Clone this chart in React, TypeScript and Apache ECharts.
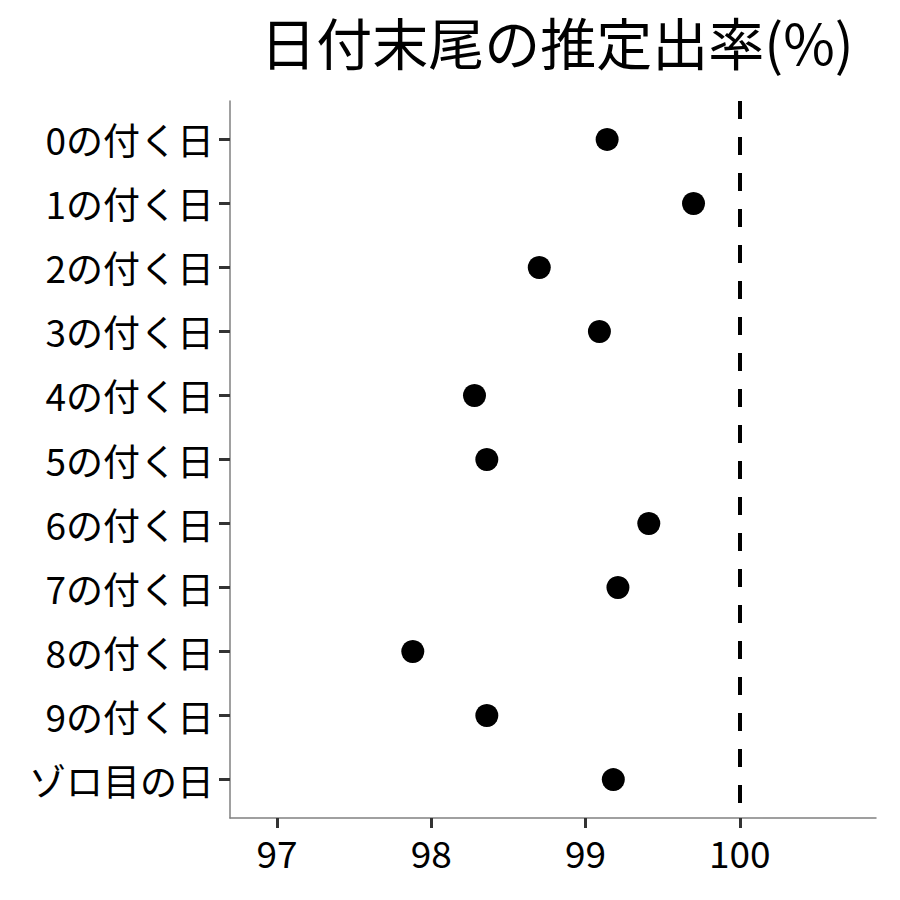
import React, { useEffect, useRef } from "react";
import * as echarts from "echarts";

const categories = [
  "0の付く日",
  "1の付く日",
  "2の付く日",
  "3の付く日",
  "4の付く日",
  "5の付く日",
  "6の付く日",
  "7の付く日",
  "8の付く日",
  "9の付く日",
  "ゾロ目の日",
];
const rates = [99.14, 99.7, 98.7, 99.09, 98.28, 98.36, 99.41, 99.21, 97.88, 98.36, 99.18];
const xTicks = [97, 98, 99, 100];
const refLine = 100;
const titleText = "日付末尾の推定出率(%)";

const FONT = "'Noto Sans CJK JP', 'Noto Sans', sans-serif";

export default function App() {
  const ref = useRef<HTMLDivElement>(null);
  useEffect(() => {
    if (!ref.current) return;
    const chart = echarts.init(ref.current, null, { renderer: "svg" });
    const idx = categories.map((_, i) => i + 1);
    chart.setOption({
      animation: false,
      backgroundColor: "#ffffff",
      title: {
        text: titleText,
        left: 552,
        top: 7,
        textAlign: "center",
        textStyle: { fontFamily: FONT, fontSize: 56, fontWeight: "normal", color: "#000" },
      },
      grid: { left: 230, right: 24, top: 101, bottom: 82, containLabel: false },
      xAxis: {
        type: "value",
        min: 96.695,
        max: 100.883,
        splitLine: { show: false },
        axisLine: { show: true, lineStyle: { color: "#808080", width: 1.5 } },
        axisTick: { show: true, length: 10, customValues: xTicks, lineStyle: { color: "#333", width: 3 } },
        axisLabel: {
          customValues: xTicks,
          fontFamily: FONT,
          fontSize: 37,
          color: "#000",
          margin: 15,
        },
      },
      yAxis: {
        type: "value",
        inverse: true,
        min: 0.4,
        max: 11.6,
        splitLine: { show: false },
        axisLine: { show: true, lineStyle: { color: "#808080", width: 1.5 } },
        axisTick: { show: true, length: 11, customValues: idx, lineStyle: { color: "#333", width: 3 } },
        axisLabel: {
          customValues: idx,
          formatter: (v: number) => categories[Math.round(v) - 1] ?? "",
          fontFamily: FONT,
          fontSize: 37,
          color: "#000",
          margin: 16,
        },
      },
      series: [
        {
          type: "scatter",
          symbol: "circle",
          symbolSize: 23,
          itemStyle: { color: "#000", opacity: 1 },
          data: rates.map((r, i) => [r, i + 1]),
          markLine: {
            silent: true,
            symbol: "none",
            label: { show: false },
            lineStyle: { color: "#000", width: 4, type: [18, 18], opacity: 1 },
            data: [{ xAxis: refLine }],
          },
        },
      ],
    });
    return () => chart.dispose();
  }, []);
  return <div ref={ref} style={{ width: 900, height: 900, margin: -8 }} />;
}
